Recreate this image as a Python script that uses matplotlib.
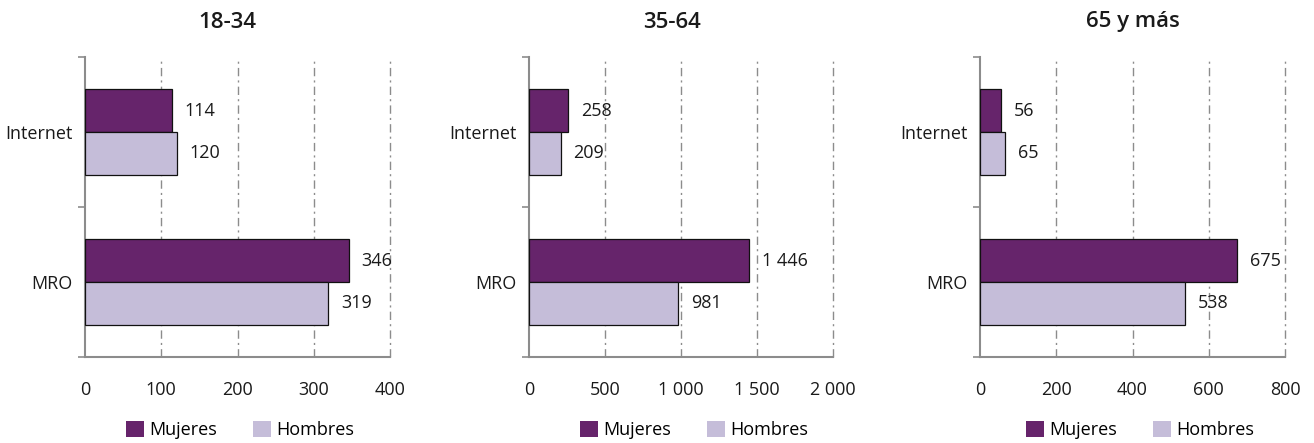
import matplotlib.pyplot as plt
from matplotlib.patches import Patch
from matplotlib.ticker import FuncFormatter

plt.rcParams['font.family'] = ['Open Sans', 'DejaVu Sans']

categories = ["Internet", "MRO"]
groups = ["18-34", "35-64", "65 y más"]
mujeres = [[114, 346], [258, 1446], [56, 675]]
hombres = [[120, 319], [209, 981], [65, 538]]
xmax = [400, 2000, 800]
xstep = [100, 500, 200]

c_muj = "#66246b"
c_hom = "#c5bdd9"
grey = "#8c8c8c"
fs = 13

W, H = 1314, 443
fig = plt.figure(figsize=(W / 100, H / 100), dpi=100)

# axes boxes in pixels: left, right ; top 57, bottom 357
boxes = [(85, 390), (529, 833), (980, 1285)]
title_x = [227, 672, 1133]
legend_x = [240, 694, 1140]


def fmt(v, pos=None):
    return f"{int(v):,}".replace(",", " ")


for i, g in enumerate(groups):
    l, r = boxes[i]
    ax = fig.add_axes([l / W, 1 - 357 / H, (r - l) / W, 300 / H])
    pos = [0.5, 1.5]
    h = 0.285
    ax.barh([p - h / 2 for p in pos], mujeres[i], height=h, color=c_muj,
            edgecolor="#111111", linewidth=0.9, zorder=3)
    ax.barh([p + h / 2 for p in pos], hombres[i], height=h, color=c_hom,
            edgecolor="#111111", linewidth=0.9, zorder=3)
    off = xmax[i] * 0.042
    for p, m, hh in zip(pos, mujeres[i], hombres[i]):
        ax.text(m + off, p - h / 2, fmt(m), va="center", ha="left",
                fontsize=fs, color="#1a1a1a", zorder=4)
        ax.text(hh + off, p + h / 2, fmt(hh), va="center", ha="left",
                fontsize=fs, color="#1a1a1a", zorder=4)

    ax.set_xlim(0, xmax[i])
    ax.set_ylim(2, 0)
    ax.set_xticks(range(0, xmax[i] + 1, xstep[i]))
    ax.xaxis.set_major_formatter(FuncFormatter(fmt))
    ax.tick_params(axis="x", length=0, pad=17, labelsize=fs, colors="#1a1a1a")
    ax.set_yticks([0, 1, 2])
    ax.set_yticklabels([])
    ax.set_yticks(pos, minor=True)
    ax.set_yticklabels(categories, minor=True)
    ax.tick_params(axis="y", which="major", length=5, width=1.2, color=grey, direction="out")
    ax.tick_params(axis="y", which="minor", length=0, pad=9, labelsize=fs, colors="#1a1a1a")

    for s in ["top", "right"]:
        ax.spines[s].set_visible(False)
    ax.spines["left"].set_color(grey)
    ax.spines["left"].set_linewidth(1.5)
    ax.spines["bottom"].set_color(grey)
    ax.spines["bottom"].set_linewidth(1.5)

    for xv in range(xstep[i], xmax[i] + 1, xstep[i]):
        ax.axvline(xv, color=grey, linewidth=1.0, linestyle=(0, (6, 3, 1.5, 3)),
                   zorder=1, clip_on=False)

    fig.text(title_x[i] / W, 1 - 22 / H, g, ha="center", va="center",
             fontsize=16, fontweight="semibold", color="#1a1a1a")

    handles = [Patch(facecolor=c_muj, label="Mujeres"),
               Patch(facecolor=c_hom, label="Hombres")]
    fig.legend(handles=handles, loc="center", ncol=2, frameon=False,
               bbox_to_anchor=(legend_x[i] / W, 1 - 430 / H),
               fontsize=fs, handlelength=1.0, handleheight=1.0,
               handletextpad=0.3, columnspacing=2.0, borderaxespad=0)

fig.savefig("out.png", dpi=100)
